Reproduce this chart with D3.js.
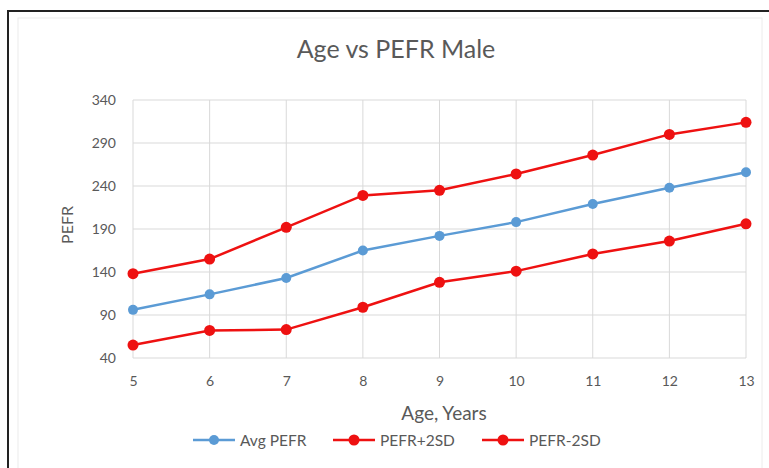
<!DOCTYPE html>
<html lang="en">
<head>
<meta charset="UTF-8">
<title>Age vs PEFR Male</title>
<script src="https://cdn.jsdelivr.net/npm/d3@7"></script>
<style>
  body { margin: 0; background: #fff; }
  text { font-family: Lato, "Open Sans", sans-serif; fill: #595959; }
</style>
</head>
<body>
<div id="chart"></div>
<script>
const ages = [5, 6, 7, 8, 9, 10, 11, 12, 13];
const avgPefr = [96, 114, 133, 165, 182, 198, 219, 238, 256];
const plus2sd = [138, 155, 192, 229, 235, 254, 276, 300, 314];
const minus2sd = [55, 72, 73, 99, 128, 141, 161, 176, 196];
const yTicks = [40, 90, 140, 190, 240, 290, 340];

const w = 769, h = 468;
const svg = d3.select("#chart").append("svg")
  .attr("width", w).attr("height", h);

// outer frame
svg.append("rect").attr("x", 8).attr("y", 11)
  .attr("width", 780).attr("height", 480)
  .attr("fill", "none").attr("stroke", "#222").attr("stroke-width", 2);
svg.append("rect").attr("x", 18).attr("y", 18)
  .attr("width", 744).attr("height", 460)
  .attr("fill", "none").attr("stroke", "#ececec").attr("stroke-width", 1);

const x = d3.scaleLinear().domain([5, 13]).range([133, 746]);
const y = d3.scaleLinear().domain([40, 340]).range([358, 100]);

// grid
svg.append("g")
  .selectAll("line").data(yTicks).enter().append("line")
  .attr("x1", x(5)).attr("x2", x(13))
  .attr("y1", d => y(d)).attr("y2", d => y(d))
  .attr("stroke", "#d9d9d9").attr("stroke-width", 1);
svg.append("g")
  .selectAll("line").data(ages).enter().append("line")
  .attr("x1", d => x(d)).attr("x2", d => x(d))
  .attr("y1", y(40)).attr("y2", y(340))
  .attr("stroke", "#d9d9d9").attr("stroke-width", 1);

// axes (labels only)
const xAxis = d3.axisBottom(x).tickValues(ages).tickSize(0).tickPadding(18);
svg.append("g").attr("transform", `translate(0,${y(40)})`).call(xAxis)
  .call(g => g.select(".domain").remove())
  .selectAll("text").attr("font-size", 14).style("fill", "#595959")
  .style("font-family", "Lato, 'Open Sans', sans-serif");
const yAxis = d3.axisLeft(y).tickValues(yTicks).tickSize(0).tickPadding(17);
svg.append("g").attr("transform", `translate(${x(5)},0)`).call(yAxis)
  .call(g => g.select(".domain").remove())
  .selectAll("text").attr("font-size", 14).style("fill", "#595959")
  .style("font-family", "Lato, 'Open Sans', sans-serif");

// titles
svg.append("text").attr("x", 396).attr("y", 58).attr("text-anchor", "middle")
  .attr("font-size", 25).text("Age vs PEFR Male");
svg.append("text").attr("x", 444).attr("y", 420).attr("text-anchor", "middle")
  .attr("font-size", 19).text("Age, Years");
svg.append("text").attr("transform", "translate(73,225) rotate(-90)")
  .attr("text-anchor", "middle").attr("font-size", 16).text("PEFR");

const series = [
  { name: "Avg PEFR", values: avgPefr, color: "#5b9bd5", r: 5 },
  { name: "PEFR+2SD", values: plus2sd, color: "#ee1111", r: 5.5 },
  { name: "PEFR-2SD", values: minus2sd, color: "#ee1111", r: 5.5 }
];

const line = d3.line().x((d, i) => x(ages[i])).y(d => y(d));

series.forEach(s => {
  svg.append("path").datum(s.values)
    .attr("d", line).attr("fill", "none")
    .attr("stroke", s.color).attr("stroke-width", 2.5);
  svg.append("g").selectAll("circle").data(s.values).enter().append("circle")
    .attr("cx", (d, i) => x(ages[i])).attr("cy", d => y(d))
    .attr("r", s.r).attr("fill", s.color);
});

// legend
const legendX = [193, 333, 482];
series.forEach((s, i) => {
  const g = svg.append("g").attr("transform", `translate(${legendX[i]},440)`);
  g.append("line").attr("x1", 0).attr("x2", 42)
    .attr("stroke", s.color).attr("stroke-width", 2.5);
  g.append("circle").attr("cx", 21).attr("r", s.r).attr("fill", s.color);
  g.append("text").attr("x", 47).attr("y", 5.5).attr("font-size", 15.5).text(s.name);
});
</script>
</body>
</html>
